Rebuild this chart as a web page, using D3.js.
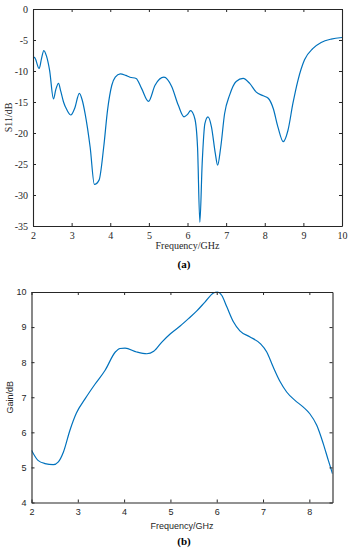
<!DOCTYPE html>
<html>
<head>
<meta charset="utf-8">
<script src="https://cdn.jsdelivr.net/npm/d3@7"></script>
<style>
  body { margin: 0; background: #fff; }
  svg { display: block; }
</style>
</head>
<body>
<div id="container"></div>
<script>
// (a) S11 vs frequency
const s11Freq = [2.0, 2.05, 2.16, 2.22, 2.28, 2.35, 2.43, 2.53, 2.59, 2.66, 2.72, 2.79, 2.88, 2.98, 3.08, 3.2, 3.27, 3.35, 3.48, 3.59, 3.71, 3.83, 3.93, 4.04, 4.13, 4.26, 4.4, 4.51, 4.67, 4.81, 4.99, 5.16, 5.39, 5.59, 5.76, 5.91, 6.0, 6.08, 6.19, 6.26, 6.32, 6.38, 6.45, 6.53, 6.62, 6.72, 6.78, 6.86, 6.96, 7.09, 7.26, 7.44, 7.61, 7.78, 7.96, 8.09, 8.22, 8.34, 8.48, 8.6, 8.73, 8.86, 9.03, 9.25, 9.46, 9.72, 10.0];
const s11Values = [-7.7, -7.9, -9.6, -8.0, -6.7, -7.6, -9.9, -14.5, -13.0, -12.0, -13.3, -15.0, -16.3, -17.1, -16.0, -13.6, -14.6, -16.9, -22.3, -28.3, -27.6, -22.3, -16.3, -12.3, -11.0, -10.45, -10.7, -11.0, -11.2, -12.8, -14.9, -12.3, -11.0, -12.5, -15.5, -17.4, -17.0, -16.4, -17.7, -22.3, -34.4, -24.9, -18.5, -17.4, -19.0, -23.3, -25.2, -22.3, -16.9, -13.9, -11.7, -11.2, -12.0, -13.4, -14.0, -14.4, -16.05, -19.0, -21.4, -19.6, -15.2, -11.5, -8.2, -6.35, -5.4, -4.85, -4.6];
const s11XTicks = [2, 3, 4, 5, 6, 7, 8, 9, 10];
const s11YTicks = [0, -5, -10, -15, -20, -25, -30, -35];

// (b) Gain vs frequency
const gainFreq = [2.0, 2.14, 2.29, 2.47, 2.58, 2.69, 2.83, 2.97, 3.16, 3.37, 3.59, 3.81, 3.91, 4.02, 4.27, 4.49, 4.64, 4.82, 5.0, 5.21, 5.39, 5.57, 5.75, 5.93, 6.01, 6.11, 6.22, 6.36, 6.5, 6.72, 6.94, 7.08, 7.22, 7.37, 7.51, 7.69, 7.87, 8.01, 8.16, 8.3, 8.41, 8.5];
const gainValues = [5.49, 5.2, 5.11, 5.08, 5.16, 5.44, 6.06, 6.55, 6.96, 7.37, 7.77, 8.29, 8.39, 8.4, 8.29, 8.24, 8.31, 8.58, 8.81, 9.03, 9.24, 9.46, 9.72, 9.97, 10.0, 9.9, 9.57, 9.15, 8.89, 8.72, 8.53, 8.29, 7.86, 7.44, 7.15, 6.91, 6.72, 6.53, 6.2, 5.68, 5.2, 4.82];
const gainXTicks = [2, 3, 4, 5, 6, 7, 8];
const gainYTicks = [4, 5, 6, 7, 8, 9, 10];

const svg = d3.select("#container").append("svg")
    .attr("width", 351)
    .attr("height", 550);

function drawPanel(opts) {
    const x = d3.scaleLinear().domain(opts.xDomain).range([opts.left, opts.right]);
    const y = d3.scaleLinear().domain(opts.yDomain).range([opts.bottom, opts.top]);
    const g = svg.append("g");
    const tick = 3;
    const axisColor = "#262626";

    g.append("clipPath").attr("id", opts.id + "-clip")
        .append("rect")
        .attr("x", opts.left).attr("y", opts.top - 1)
        .attr("width", opts.right - opts.left).attr("height", opts.bottom - opts.top + 2);

    const points = opts.xs.map((d, i) => [d, opts.ys[i]]);
    const line = d3.line()
        .x(d => x(d[0]))
        .y(d => y(d[1]))
        .curve(d3.curveMonotoneX);

    g.append("path")
        .datum(points)
        .attr("clip-path", `url(#${opts.id}-clip)`)
        .attr("fill", "none")
        .attr("stroke", "#0072BD")
        .attr("stroke-width", 1.2)
        .attr("d", line);

    // box axes, ticks pointing inward on all four sides
    const bottom = g.append("g")
        .attr("transform", `translate(0,${opts.bottom})`)
        .call(d3.axisBottom(x).tickValues(opts.xTicks).tickSize(-tick).tickSizeOuter(0).tickPadding(6).tickFormat(d3.format("d")));
    const left = g.append("g")
        .attr("transform", `translate(${opts.left},0)`)
        .call(d3.axisLeft(y).tickValues(opts.yTicks).tickSize(-tick).tickSizeOuter(0).tickPadding(5).tickFormat(d => String(d)));
    const top = g.append("g")
        .attr("transform", `translate(0,${opts.top})`)
        .call(d3.axisTop(x).tickValues(opts.xTicks).tickSize(-tick).tickSizeOuter(0).tickFormat(""));
    const right = g.append("g")
        .attr("transform", `translate(${opts.right},0)`)
        .call(d3.axisRight(y).tickValues(opts.yTicks).tickSize(-tick).tickSizeOuter(0).tickFormat(""));

    [bottom, left, top, right].forEach(a => {
        a.attr("font-family", opts.font);
        a.select(".domain").attr("stroke", axisColor).attr("stroke-width", 1.1);
        a.selectAll(".tick line").attr("stroke", axisColor);
        a.selectAll("text")
            .attr("fill", axisColor)
            .attr("font-size", opts.fontSize);
    });

    g.append("text")
        .attr("x", (opts.left + opts.right) / 2)
        .attr("y", opts.bottom + opts.xLabelOffset)
        .attr("text-anchor", "middle")
        .attr("font-family", opts.font)
        .attr("font-size", opts.fontSize)
        .attr("fill", axisColor)
        .text("Frequency/GHz");

    g.append("text")
        .attr("transform", `translate(${opts.yLabelX},${(opts.top + opts.bottom) / 2}) rotate(-90)`)
        .attr("text-anchor", "middle")
        .attr("font-family", opts.font)
        .attr("font-size", opts.fontSize)
        .attr("fill", axisColor)
        .text(opts.yLabel);

    svg.append("text")
        .attr("x", opts.captionX)
        .attr("y", opts.captionY)
        .attr("text-anchor", "middle")
        .attr("font-family", "'Liberation Serif', 'Times New Roman', serif")
        .attr("font-weight", "bold")
        .attr("font-size", 11)
        .attr("fill", "#000")
        .text(opts.caption);
}

drawPanel({
    id: "a",
    xs: s11Freq, ys: s11Values,
    xDomain: [2, 10], yDomain: [-35, 0],
    xTicks: s11XTicks, yTicks: s11YTicks,
    left: 33, right: 342, top: 9, bottom: 226,
    font: "'Liberation Serif', 'Times New Roman', serif",
    fontSize: 10,
    xLabelOffset: 23,
    yLabel: "S11/dB", yLabelX: 12,
    caption: "(a)", captionX: 184, captionY: 268
});

drawPanel({
    id: "b",
    xs: gainFreq, ys: gainValues,
    xDomain: [2, 8.5], yDomain: [4, 10],
    xTicks: gainXTicks, yTicks: gainYTicks,
    left: 31.5, right: 332.5, top: 292, bottom: 502.5,
    font: "'Liberation Sans', Arial, sans-serif",
    fontSize: 9,
    xLabelOffset: 26,
    yLabel: "Gain/dB", yLabelX: 13,
    caption: "(b)", captionX: 184, captionY: 545
});
</script>
</body>
</html>
